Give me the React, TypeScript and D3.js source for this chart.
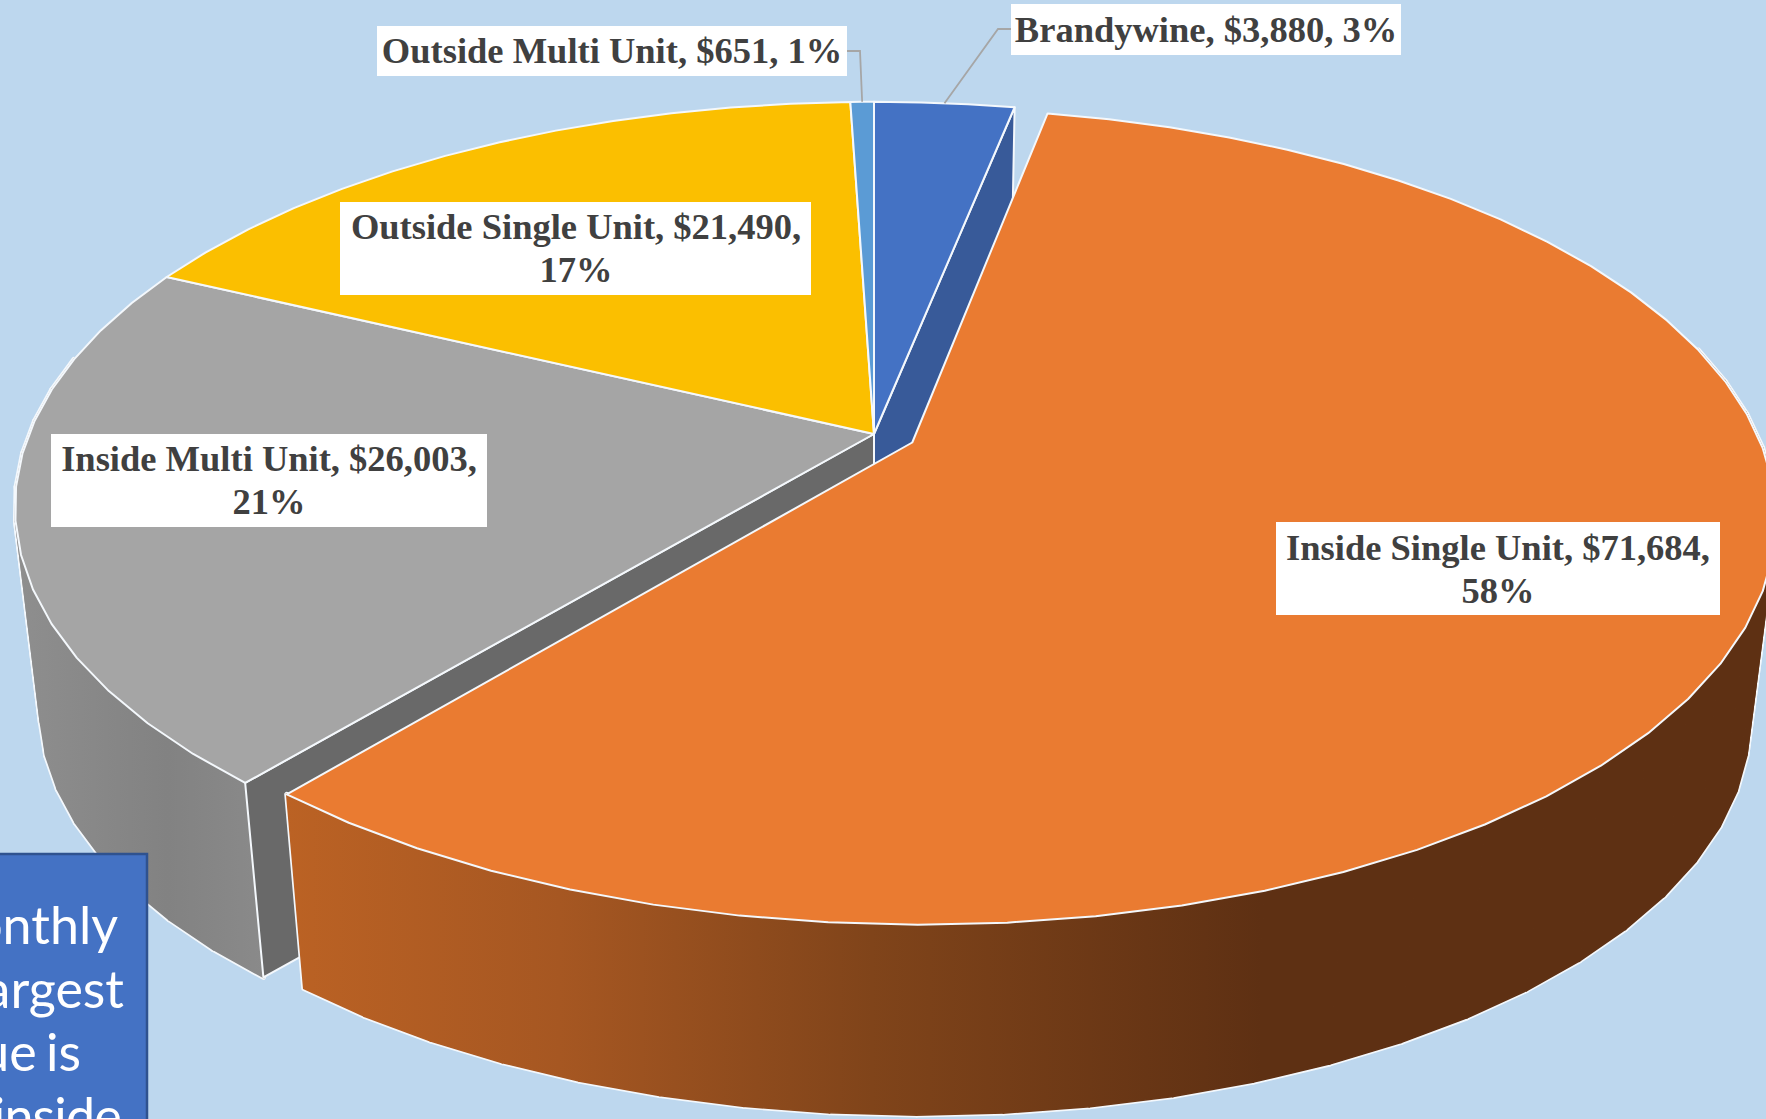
import React from 'react';
import * as d3 from 'd3';

const WIDTH = 1766;
const HEIGHT = 1119;

// chart data, clockwise from 12 o'clock
const categories = ['Brandywine', 'Inside Single Unit', 'Inside Multi Unit', 'Outside Single Unit', 'Outside Multi Unit'];
const values = [3880, 71684, 26003, 21490, 651];
const topColors = ['#4472c4', '#ea7b31', '#a5a5a5', '#fbbf00', '#5b9bd5'];
const calloutLines = ['onthly', 'argest', 'ue is', 'inside'];

// projection of the tilted pie (fitted by eye to the picture)
const CX = 874, CY = 434;
const RX = 845, RY = 392, PERSP = 0.18;
const VANISH_Y = 7490, DEPTH = 0.971;
const EXPLODE = 0.05;
const EXPLODED = 1; // Inside Single Unit is pulled out
const DEG = Math.PI / 180;

const fmt = d3.format('$,');
const total = d3.sum(values);

const pieGen = d3.pie<number>().sort(null).startAngle(0).endAngle(Math.PI * 2);
const slices = pieGen(values);

type Pt = [number, number];

function project(r: number, angle: number, offset = 0, offAngle = 0): Pt {
  const u = r * Math.sin(angle) + offset * Math.sin(offAngle);
  const v = -r * Math.cos(angle) - offset * Math.cos(offAngle);
  const w = 1 - PERSP * v;
  return [CX + (RX * u) / w, CY + (RY * v) / w];
}

// same point on the lower face of the disc
function lower(p: Pt): Pt {
  return [CX + (p[0] - CX) * DEPTH, VANISH_Y + (p[1] - VANISH_Y) * DEPTH];
}

const line = d3.line<Pt>().x(d => d[0]).y(d => d[1]);

function rimAngles(a0: number, a1: number): number[] {
  const n = Math.max(2, Math.ceil((a1 - a0) / (5 * DEG)));
  return d3.range(n + 1).map(i => a0 + ((a1 - a0) * i) / n);
}

const shapes = slices.map((s, i) => {
  const mid = (s.startAngle + s.endAngle) / 2;
  const off = i === EXPLODED ? EXPLODE : 0;
  const angles = rimAngles(s.startAngle, s.endAngle);
  const at = (a: number) => project(1, a, off, mid);
  const arc = angles.map(at);
  const apex = project(0, 0, off, mid);
  const last = arc[arc.length - 1];
  return {
    i,
    mid,
    top: line([apex, ...arc])! + 'Z',
    // one quad per facet on the front of the rim, so the silhouette follows the tangent down the side
    wall: d3.pairs(angles)
      .filter(([a, b]) => a >= 75 * DEG && b <= 285 * DEG)
      .map(([a, b]) => line([at(a), at(b), lower(at(b)), lower(at(a))])! + 'Z'),
    startWall: line([apex, arc[0], lower(arc[0]), lower(apex)])! + 'Z',
    endWall: line([apex, last, lower(last), lower(apex)])! + 'Z',
  };
});

// label boxes: [x0, y0, x1, y1, text centre x, first baseline]
const labelBoxes: number[][] = [
  [1011, 4, 1401, 55, 1206, 42],
  [1276, 522, 1720, 615, 1498, 560],
  [51, 434, 487, 527, 269, 471],
  [340, 202, 811, 295, 576, 239],
  [377, 26, 847, 76, 612, 63],
];
const labelWraps = [false, true, true, true, false];
const LINE_GAP = 43;

const stroke = { stroke: '#f4f8fc', strokeLinejoin: 'round' as const };

// white halo underneath, then the fill with a stroke wide enough to hide the seams
function SideWall({ quads, fill }: { quads: string[]; fill: string }) {
  return (
    <g>
      {quads.map((d, i) => <path key={'o' + i} d={d} fill="#f4f8fc" {...stroke} strokeWidth={5} />)}
      {quads.map((d, i) => <path key={'f' + i} d={d} fill={fill} stroke={fill} strokeWidth={1.6} />)}
    </g>
  );
}

export default function App() {
  const [blue, orange, grey, , sky] = shapes;
  const leaderB = project(1, blue.mid);
  const leaderS = project(1, sky.mid);

  return (
    <svg width={WIDTH} height={HEIGHT} style={{ position: 'absolute', left: 0, top: 0 }}>
      <defs>
        <linearGradient id="orangeSide" gradientUnits="userSpaceOnUse" x1={287} x2={1262} y1={0} y2={0}>
          <stop offset="0" stopColor="#bb6224" />
          <stop offset="0.28" stopColor="#a65722" />
          <stop offset="0.6" stopColor="#80441a" />
          <stop offset="1" stopColor="#5e3013" />
        </linearGradient>
        <linearGradient id="greySide" gradientUnits="userSpaceOnUse" x1={20} x2={265} y1={0} y2={0}>
          <stop offset="0" stopColor="#8e8e8e" />
          <stop offset="0.6" stopColor="#828282" />
          <stop offset="1" stopColor="#8a8a8a" />
        </linearGradient>
      </defs>
      <rect width={WIDTH} height={HEIGHT} fill="#bdd7ee" />

      {/* side walls first, tops paint over the hidden parts */}
      <SideWall quads={grey.wall} fill="url(#greySide)" />
      <path d={grey.startWall} fill="#696969" {...stroke} strokeWidth={2} />
      <path d={blue.endWall} fill="#385a99" {...stroke} strokeWidth={2} />

      {shapes.filter(s => s.i !== EXPLODED).map(s => (
        <path key={s.i} d={s.top} fill={topColors[s.i]} {...stroke} strokeWidth={2} />
      ))}

      <SideWall quads={orange.wall} fill="url(#orangeSide)" />
      <path d={orange.top} fill={topColors[EXPLODED]} {...stroke} strokeWidth={2} />

      {/* leader lines */}
      <path d={line([[1011, 29], [998, 29], leaderB])!} fill="none" stroke="#a6a6a6" strokeWidth={1.8} />
      <path d={line([[847, 51], [860, 51], leaderS])!} fill="none" stroke="#a6a6a6" strokeWidth={1.8} />

      {categories.map((c, i) => {
        const [x0, y0, x1, y1, tx, ty] = labelBoxes[i];
        const pct = Math.round((values[i] / total) * 100) + '%';
        const head = `${c}, ${fmt(values[i])},`;
        return (
          <g key={c} fontFamily="'Liberation Serif', serif" fontWeight="bold" fontSize={36.5} fill="#404040" textAnchor="middle">
            <rect x={x0} y={y0} width={x1 - x0} height={y1 - y0} fill="#fff" />
            {labelWraps[i] ? (
              <>
                <text x={tx} y={ty}>{head}</text>
                <text x={tx} y={ty + LINE_GAP}>{pct}</text>
              </>
            ) : (
              <text x={tx} y={ty}>{`${head} ${pct}`}</text>
            )}
          </g>
        );
      })}

      {/* text box cut off by the picture edge */}
      <rect x={-10} y={854} width={157} height={300} fill="#4472c4" stroke="#2f528f" strokeWidth={2.5} />
      <g fontFamily="Lato, sans-serif" fontSize={52} fill="#fff" textAnchor="end" wordSpacing={-4}>
        {calloutLines.map((t, i) => (
          <text key={t} x={[118, 124, 81, 121][i]} y={944 + i * 63.5} letterSpacing={i === 3 ? -0.8 : 0}>{t}</text>
        ))}
      </g>
    </svg>
  );
}
